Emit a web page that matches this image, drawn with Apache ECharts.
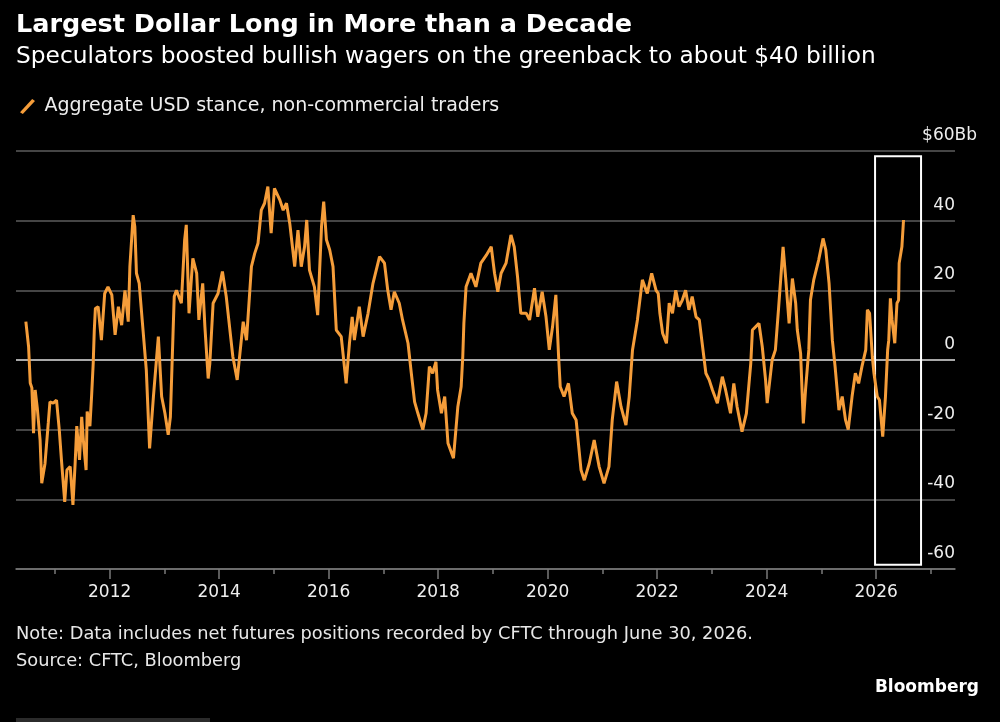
<!DOCTYPE html>
<html>
<head>
<meta charset="utf-8">
<script src="https://cdn.jsdelivr.net/npm/echarts@6/dist/echarts.min.js"></script>
<style>
  html, body { margin: 0; padding: 0; background: #000; }
  #chart { width: 1000px; height: 722px; }
</style>
</head>
<body>
<div id="chart"></div>
<script>
// weekly net USD position, $ billions, dates as decimal years
const dates = [
  2010.47, 2010.52, 2010.55, 2010.58, 2010.61, 2010.64, 2010.68, 2010.73, 2010.76, 2010.82,
  2010.88, 2010.91, 2010.97, 2011.03, 2011.08, 2011.12, 2011.18, 2011.22, 2011.28, 2011.33,
  2011.37, 2011.40, 2011.45, 2011.49, 2011.52, 2011.57, 2011.59, 2011.64, 2011.67, 2011.70,
  2011.72, 2011.74, 2011.79, 2011.85, 2011.91, 2011.97, 2012.04, 2012.10, 2012.16, 2012.22,
  2012.28, 2012.34, 2012.37, 2012.43, 2012.46, 2012.49, 2012.54, 2012.61, 2012.67, 2012.73,
  2012.80, 2012.89, 2012.95, 2013.01, 2013.07, 2013.11, 2013.16, 2013.18, 2013.22, 2013.31,
  2013.37, 2013.40, 2013.45, 2013.50, 2013.52, 2013.59, 2013.63, 2013.70, 2013.74, 2013.80,
  2013.83, 2013.89, 2013.98, 2014.06, 2014.13, 2014.19, 2014.25, 2014.33, 2014.38, 2014.44,
  2014.50, 2014.59, 2014.65, 2014.71, 2014.77, 2014.83, 2014.89, 2014.95, 2015.01, 2015.11,
  2015.17, 2015.23, 2015.29, 2015.38, 2015.44, 2015.50, 2015.56, 2015.60, 2015.65, 2015.74,
  2015.80, 2015.87, 2015.91, 2015.96, 2016.02, 2016.08, 2016.14, 2016.23, 2016.32, 2016.38,
  2016.43, 2016.47, 2016.56, 2016.63, 2016.72, 2016.81, 2016.93, 2017.02, 2017.08, 2017.14,
  2017.20, 2017.29, 2017.35, 2017.45, 2017.51, 2017.57, 2017.63, 2017.72, 2017.78, 2017.84,
  2017.90, 2017.96, 2017.99, 2018.06, 2018.12, 2018.18, 2018.28, 2018.36, 2018.42, 2018.45,
  2018.47, 2018.51, 2018.60, 2018.69, 2018.78, 2018.88, 2018.97, 2019.03, 2019.09, 2019.15,
  2019.24, 2019.33, 2019.39, 2019.45, 2019.51, 2019.61, 2019.67, 2019.76, 2019.82, 2019.90,
  2019.97, 2020.03, 2020.09, 2020.15, 2020.20, 2020.23, 2020.30, 2020.38, 2020.45, 2020.52,
  2020.61, 2020.67, 2020.76, 2020.85, 2020.94, 2021.03, 2021.12, 2021.18, 2021.26, 2021.34,
  2021.43, 2021.49, 2021.55, 2021.64, 2021.73, 2021.82, 2021.90, 2021.98, 2022.02, 2022.05,
  2022.10, 2022.17, 2022.22, 2022.28, 2022.34, 2022.40, 2022.46, 2022.52, 2022.58, 2022.64,
  2022.71, 2022.77, 2022.83, 2022.89, 2022.95, 2023.01, 2023.10, 2023.19, 2023.25, 2023.34,
  2023.40, 2023.46, 2023.55, 2023.63, 2023.71, 2023.74, 2023.86, 2023.92, 2023.98, 2024.01,
  2024.10, 2024.16, 2024.22, 2024.30, 2024.35, 2024.41, 2024.47, 2024.53, 2024.56, 2024.62,
  2024.67, 2024.71, 2024.77, 2024.80, 2024.86, 2024.95, 2025.03, 2025.08, 2025.14, 2025.20,
  2025.25, 2025.32, 2025.38, 2025.44, 2025.49, 2025.56, 2025.62, 2025.68, 2025.74, 2025.81,
  2025.84, 2025.88, 2025.93, 2025.96, 2026.02, 2026.06, 2026.12, 2026.17, 2026.21, 2026.23,
  2026.26, 2026.29, 2026.34, 2026.38, 2026.41, 2026.42, 2026.47, 2026.50
]
const usdStance = [
  11, 3.8, -6.6, -8, -21, -8.6, -14, -23, -35.4, -29.7,
  -18, -12, -12.4, -11.5, -20, -28.7, -40.7, -31.6, -30.6, -41.6,
  -29.7, -19, -28.7, -16.3, -23, -31.6, -14.8, -19, -10.5, -1,
  8.6, 14.8, 15.3, 5.7, 19.1, 21, 18.7, 7.2, 15.3, 10,
  20, 11, 26.8, 41.6, 38.3, 24.9, 22, 8.6, -2.9, -25.4,
  -10.5, 6.7, -10.5, -15.3, -21.5, -16.3, 8.6, 18.2, 20, 16.3,
  34.5, 38.8, 13.4, 24.9, 29.2, 24.9, 11.5, 22, 9.6, -5.3,
  -1, 16.3, 19.1, 25.4, 18.2, 9.6, 1, -5.7, 1.9, 11,
  5.7, 26.8, 30.6, 33.5, 43, 45, 49.8, 36.4, 49.3, 45.9,
  43, 45, 39.2, 26.8, 37.3, 26.8, 32.5, 40.2, 25.8, 21,
  12.9, 38.3, 45.5, 34.5, 31.6, 26.8, 8.6, 6.7, -6.7, 4.8,
  12.4, 5.7, 15.3, 6.7, 13.4, 22, 29.7, 27.8, 20, 14.4,
  19.6, 16.3, 11.5, 4.8, -3.8, -12, -15.3, -20, -15.3, -1.9,
  -3.8, -0.5, -8.6, -15.3, -10.5, -23.9, -28.2, -13.4, -7.7, 1,
  10.5, 21, 24.9, 21, 27.8, 30.1, 32.5, 24.9, 19.6, 24.9,
  27.8, 35.9, 32.5, 23.9, 13.4, 13.4, 11.5, 20.6, 12.4, 19.6,
  12.4, 2.9, 9.6, 18.7, 1, -7.7, -10.5, -6.7, -15.3, -17.2,
  -31.6, -34.5, -29.7, -23, -30.6, -35.4, -30.6, -17.2, -6.2, -13.4,
  -18.7, -10.5, 2.9, 11.5, 23, 19.1, 24.9, 20, 19.1, 13.4,
  7.7, 4.8, 16.3, 13.4, 20, 15.3, 17.2, 20, 14.4, 18.2,
  12.4, 11.5, 3.8, -3.8, -5.7, -8.6, -12.4, -4.8, -8.6, -15.3,
  -6.7, -13.4, -20.6, -15.3, -1, 8.6, 10.5, 3.8, -5.7, -12.4,
  0, 2.9, 15.3, 32.5, 23, 10.5, 23.4, 16.3, 8.6, 1.9,
  -18.2, -8.6, 2.9, 17.2, 23, 28.7, 34.9, 31.6, 22, 5.7,
  -1.9, -14.4, -10.5, -17.2, -20, -10.5, -3.8, -6.7, -1.9, 2.9,
  14.4, 13.4, 1, -3.8, -10.5, -11.5, -22, -10.5, 2.9, 5.7,
  17.7, 11.5, 4.8, 16.3, 17.2, 27.8, 32.5, 40.2
]
const yearLabels = [2012, 2014, 2016, 2018, 2020, 2022, 2024, 2026]
const minorYears = [2011, 2013, 2015, 2017, 2019, 2021, 2023, 2025, 2027]
const yTicks = [-60, -40, -20, 0, 20, 40, 60]
// highlighted window around the latest reading
const boxFrom = [2025.98, 58.5]
const boxTo = [2026.82, -58.8]

const FONT = 'DejaVu Sans'
const ORANGE = '#f59d3a'
const seriesName = 'Aggregate USD stance, non-commercial traders'

const chart = echarts.init(document.getElementById('chart'))
chart.setOption({
  backgroundColor: '#000',
  animation: false,
  graphic: [
    { type: 'text', x: 16, y: 25, style: { text: 'Largest Dollar Long in More than a Decade', font: 'bold 25.5px "DejaVu Sans"', fill: '#fff', verticalAlign: 'middle' } },
    { type: 'text', x: 16, y: 57, style: { text: 'Speculators boosted bullish wagers on the greenback to about $40 billion', font: '23.3px "DejaVu Sans"', fill: '#fff', verticalAlign: 'middle' } },
    { type: 'text', x: 16, y: 634, style: { text: 'Note: Data includes net futures positions recorded by CFTC through June 30, 2026.', font: '17.8px "DejaVu Sans"', fill: '#e8e8e8', verticalAlign: 'middle' } },
    { type: 'text', x: 16, y: 661, style: { text: 'Source: CFTC, Bloomberg', font: '17.8px "DejaVu Sans"', fill: '#e8e8e8', verticalAlign: 'middle' } },
    { type: 'text', x: 979, y: 688, style: { text: 'Bloomberg', font: 'bold 17px "DejaVu Sans"', fill: '#fff', align: 'right', verticalAlign: 'middle' } },
    { type: 'rect', shape: { x: 16, y: 718, width: 194, height: 4 }, style: { fill: '#2b2b2b' } }
  ],
  legend: {
    left: 15,
    top: 92,
    itemWidth: 16,
    itemHeight: 15,
    data: [{ name: seriesName, icon: 'path://M0,14 L13,0 L16,2 L3,16 Z' }],
    textStyle: { color: '#eee', fontSize: 19, fontFamily: FONT, padding: [0, 0, 0, 4] }
  },
  grid: { left: 16, right: 45, top: 151, bottom: 153 },
  xAxis: [
    {
      type: 'value',
      min: 2010.29,
      max: 2027.44,
      axisLine: { onZero: false, lineStyle: { color: '#7a7a7a', width: 1.5 } },
      axisTick: { customValues: yearLabels, length: 10, lineStyle: { color: '#7a7a7a', width: 1.5 } },
      axisLabel: { customValues: yearLabels, formatter: v => String(v), color: '#eee', fontSize: 17, fontFamily: FONT, margin: 15 },
      splitLine: { show: false }
    },
    {
      type: 'value',
      position: 'bottom',
      min: 2010.29,
      max: 2027.44,
      axisLine: { show: false, onZero: false },
      axisTick: { customValues: minorYears, length: 5, lineStyle: { color: '#7a7a7a', width: 1.5 } },
      axisLabel: { show: false },
      splitLine: { show: false }
    }
  ],
  yAxis: {
    type: 'value',
    position: 'right',
    min: -60,
    max: 60,
    interval: 20,
    axisLine: { show: false },
    axisTick: { show: false },
    axisLabel: {
      inside: true,
      margin: -22,
      verticalAlign: 'bottom',
      padding: [0, 0, 7, 0],
      color: '#eee',
      fontSize: 17,
      fontFamily: FONT,
      formatter: v => (v === 60 ? '$60Bb' : '{n|' + v + '}'),
      rich: { n: { padding: [0, 22, 0, 0], color: '#eee', fontSize: 17, fontFamily: FONT } }
    },
    splitLine: {
      lineStyle: {
        width: 1.5,
        color: yTicks.map(v => (v === 0 ? '#e0e0e0' : '#5c5c5c'))
      }
    }
  },
  series: [{
    name: seriesName,
    type: 'line',
    showSymbol: false,
    color: ORANGE,
    lineStyle: { width: 3, color: ORANGE },
    data: dates.map((d, i) => [d, usdStance[i]]),
    markArea: {
      silent: true,
      itemStyle: { color: 'rgba(0,0,0,0)', borderColor: '#fff', borderWidth: 2 },
      data: [[{ xAxis: boxFrom[0], yAxis: boxFrom[1] }, { xAxis: boxTo[0], yAxis: boxTo[1] }]]
    }
  }]
})
</script>
</body>
</html>
